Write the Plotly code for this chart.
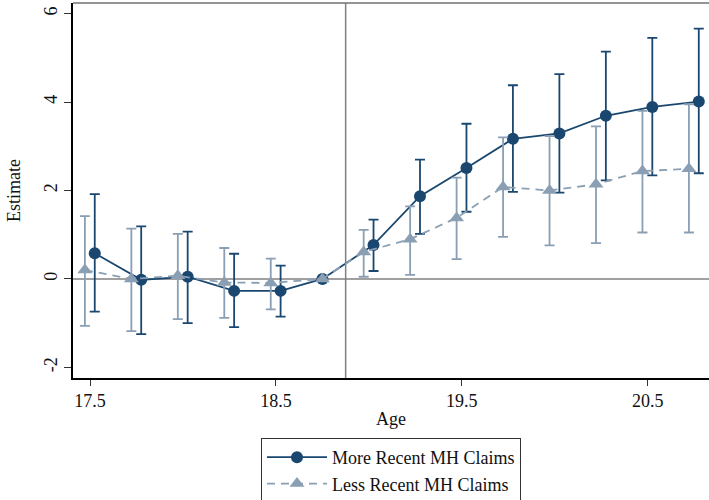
import numpy as np
import plotly.graph_objects as go

# Event-time ages (quarterly) and estimates with 95% CIs
ages = [17.5, 17.75, 18.0, 18.25, 18.5, 18.75, 19.0, 19.25, 19.5, 19.75, 20.0, 20.25, 20.5, 20.75]

more_est = [0.58, -0.02, 0.05, -0.27, -0.27, 0.0, 0.77, 1.87, 2.51, 3.17, 3.29, 3.69, 3.89, 4.01]
more_hi = [1.92, 1.19, 1.07, 0.57, 0.30, None, 1.34, 2.70, 3.51, 4.38, 4.63, 5.14, 5.45, 5.66]
more_lo = [-0.74, -1.25, -1.00, -1.09, -0.85, None, 0.18, 1.02, 1.52, 1.97, 1.95, 2.23, 2.34, 2.39]

less_est = [0.20, 0.00, 0.07, -0.08, -0.09, 0.0, 0.61, 0.90, 1.38, 2.08, 2.00, 2.14, 2.44, 2.49]
less_hi = [1.42, 1.14, 1.02, 0.70, 0.46, None, 1.11, 1.64, 2.29, 3.20, 3.23, 3.45, 3.80, 3.95]
less_lo = [-1.06, -1.18, -0.91, -0.88, -0.69, None, 0.05, 0.09, 0.45, 0.95, 0.76, 0.81, 1.05, 1.05]

ref_age = 18.75      # omitted reference period
cutoff = 18.875      # vertical reference line
x_ticks = [17.5, 18.5, 19.5, 20.5]
y_ticks = [-2, 0, 2, 4, 6]

NAVY = "#1a476f"
LIGHT = "#8a9fb4"
FONT = "Liberation Serif, Times New Roman, serif"


def dodge(xs, off):
    return [x if x == ref_age else x + off for x in xs]


def errs(est, hi, lo):
    up = [np.nan if h is None else h - e for e, h in zip(est, hi)]
    dn = [np.nan if l is None else e - l for e, l in zip(est, lo)]
    return up, dn


fig = go.Figure()

mu, md = errs(more_est, more_hi, more_lo)
fig.add_trace(go.Scatter(
    x=dodge(ages, 0.025), y=more_est, mode="lines+markers",
    name="More Recent MH Claims",
    line=dict(color=NAVY, width=1.8),
    marker=dict(symbol="circle", size=12, color=NAVY),
    error_y=dict(type="data", symmetric=False, array=mu, arrayminus=md,
                 color=NAVY, thickness=1.8, width=5),
))

lu, ld = errs(less_est, less_hi, less_lo)
fig.add_trace(go.Scatter(
    x=dodge(ages, -0.028), y=less_est, mode="lines+markers",
    name="Less Recent MH Claims",
    line=dict(color=LIGHT, width=1.8, dash="8px,6px"),
    marker=dict(symbol="triangle-up", size=13, color=LIGHT),
    error_y=dict(type="data", symmetric=False, array=lu, arrayminus=ld,
                 color=LIGHT, thickness=1.8, width=5),
))

shapes = [
    # zero line
    dict(type="line", xref="paper", yref="y", x0=0, x1=1, y0=0, y1=0,
         line=dict(color="#808080", width=1.5), layer="below"),
    # cutoff line
    dict(type="line", xref="x", yref="paper", x0=cutoff, x1=cutoff, y0=0, y1=1,
         line=dict(color="#808080", width=1.5), layer="below"),
    # top frame
    dict(type="line", xref="paper", yref="paper", x0=0, x1=1, y0=1, y1=1,
         line=dict(color="#707070", width=1.5)),
]

fig.update_layout(
    width=709, height=500,
    margin=dict(l=73, r=0, t=3, b=122, autoexpand=False),
    paper_bgcolor="white", plot_bgcolor="white",
    font=dict(family=FONT, size=18, color="#111111"),
    shapes=shapes,
    showlegend=True,
    legend=dict(
        x=0.5, xanchor="center", y=-0.16, yanchor="top",
        orientation="v", bordercolor="#333333", borderwidth=1,
        bgcolor="white", font=dict(family=FONT, size=18),
        itemwidth=60, tracegroupgap=0,
    ),
    xaxis=dict(
        range=[17.408, 20.83], tickvals=x_ticks,
        ticktext=[f"{v:.1f}" for v in x_ticks],
        showgrid=False, zeroline=False,
        showline=True, linecolor="black", linewidth=1.5,
        ticks="outside", ticklen=6, tickcolor="#333333", tickwidth=1.2,
        title=dict(text="Age", standoff=2, font=dict(size=18)),
    ),
    yaxis=dict(
        range=[-2.24, 6.24], tickvals=y_ticks,
        ticktext=[str(v) for v in y_ticks],
        tickangle=-90,
        showgrid=False, zeroline=False,
        showline=True, linecolor="black", linewidth=1.5,
        ticks="outside", ticklen=7, tickcolor="#333333", tickwidth=1.2,
        title=dict(text="Estimate", standoff=16, font=dict(size=18)),
    ),
)

fig.write_html("out.html")
